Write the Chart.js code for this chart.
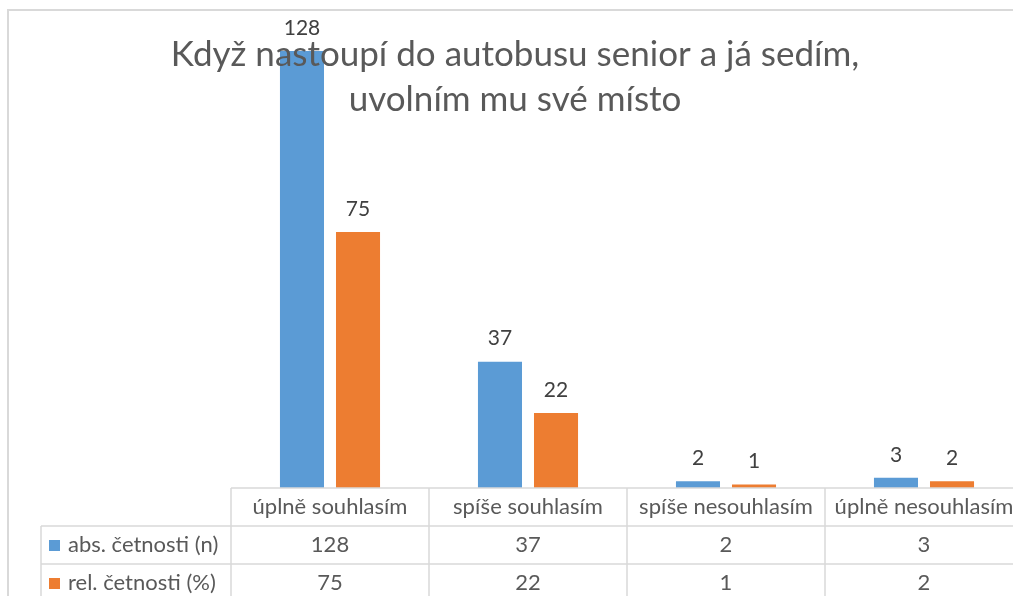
<!DOCTYPE html>
<html>
<head>
<meta charset="utf-8">
<script src="https://cdn.jsdelivr.net/npm/chart.js@4/dist/chart.umd.min.js"></script>
<style>
html, body { margin: 0; background: #fff; overflow: hidden; }
</style>
</head>
<body>
<canvas id="canvas" width="1026" height="596"></canvas>
<script>
var categories = ['úplně souhlasím', 'spíše souhlasím', 'spíše nesouhlasím', 'úplně nesouhlasím'];
var absValues = [128, 37, 2, 3];
var relValues = [75, 22, 1, 2];
var seriesNames = ['abs. četnosti (n)', 'rel. četnosti (%)'];
var titleLines = ['Když nastoupí do autobusu senior a já sedím,', 'uvolním mu své místo'];

var FONT = 'Lato, "Open Sans", sans-serif';
var TEXT = '#595959';
var LINE = '#d9d9d9';

// frame around the chart
var framePlugin = {
    id: 'frame',
    beforeDraw: function (chart) {
        var ctx = chart.ctx;
        ctx.save();
        ctx.fillStyle = '#fff';
        ctx.fillRect(0, 0, chart.width, chart.height);
        ctx.strokeStyle = LINE;
        ctx.lineWidth = 2;
        ctx.beginPath();
        ctx.moveTo(8, chart.height);
        ctx.lineTo(8, 10);
        ctx.lineTo(1013, 10);
        ctx.stroke();
        ctx.restore();
    }
};

// value labels + title on top of bars
var labelPlugin = {
    id: 'labels',
    afterDatasetsDraw: function (chart) {
        var ctx = chart.ctx;
        ctx.save();
        ctx.font = '21px ' + FONT;
        ctx.fillStyle = '#404040';
        ctx.textAlign = 'center';
        ctx.textBaseline = 'middle';
        chart.data.datasets.forEach(function (ds, i) {
            var meta = chart.getDatasetMeta(i);
            meta.data.forEach(function (bar, j) {
                ctx.fillText(ds.data[j], bar.x, bar.y - 23);
            });
        });

        ctx.font = '35px ' + FONT;
        ctx.fillStyle = TEXT;
        ctx.fillText(titleLines[0], 515, 55);
        ctx.fillText(titleLines[1], 515, 100);
        ctx.restore();
    }
};

// data table below the bars
var tablePlugin = {
    id: 'table',
    afterDraw: function (chart) {
        var ctx = chart.ctx;
        var x = chart.scales.x;
        var area = chart.chartArea;
        var colW = (area.right - area.left) / categories.length;
        var rowH = 38;
        var top = area.bottom;
        var labelLeft = 41;

        ctx.save();
        ctx.strokeStyle = LINE;
        ctx.lineWidth = 1.5;
        ctx.beginPath();
        ctx.moveTo(area.left, top);
        ctx.lineTo(area.right, top);
        for (var r = 1; r <= 3; r++) {
            ctx.moveTo(labelLeft, top + r * rowH);
            ctx.lineTo(area.right, top + r * rowH);
        }
        ctx.moveTo(labelLeft, top + rowH);
        ctx.lineTo(labelLeft, top + 3 * rowH);
        for (var c = 0; c <= categories.length; c++) {
            ctx.moveTo(area.left + c * colW, top);
            ctx.lineTo(area.left + c * colW, top + 3 * rowH);
        }
        ctx.stroke();

        ctx.font = '22px ' + FONT;
        ctx.fillStyle = TEXT;
        ctx.textAlign = 'center';
        ctx.textBaseline = 'middle';
        categories.forEach(function (cat, i) {
            ctx.fillText(cat, x.getPixelForValue(i), top + rowH / 2);
        });

        chart.data.datasets.forEach(function (ds, i) {
            var cy = top + rowH * (i + 1) + rowH / 2;
            ds.data.forEach(function (v, j) {
                ctx.fillText(v, x.getPixelForValue(j), cy);
            });
            ctx.fillStyle = ds.backgroundColor;
            ctx.fillRect(49, cy - 5, 11, 11);
            ctx.fillStyle = TEXT;
            ctx.textAlign = 'left';
            ctx.fillText(ds.label, 68, cy);
            ctx.textAlign = 'center';
        });
        ctx.restore();
    }
};

var ctx = document.getElementById('canvas').getContext('2d');
window.myBar = new Chart(ctx, {
    type: 'bar',
    data: {
        labels: categories,
        datasets: [{
            label: seriesNames[0],
            backgroundColor: '#5b9bd5',
            data: absValues
        }, {
            label: seriesNames[1],
            backgroundColor: '#ed7d31',
            data: relValues
        }]
    },
    options: {
        responsive: false,
        animation: false,
        devicePixelRatio: 1,
        categoryPercentage: 0.566,
        barPercentage: 0.786,
        layout: {
            padding: { left: 231, right: 3, top: 10, bottom: 108 }
        },
        scales: {
            x: { display: false },
            y: { display: false, min: 0, max: 140 }
        },
        plugins: {
            legend: { display: false },
            title: { display: false },
            tooltip: { enabled: false }
        }
    },
    plugins: [framePlugin, labelPlugin, tablePlugin]
});
</script>
</body>
</html>
